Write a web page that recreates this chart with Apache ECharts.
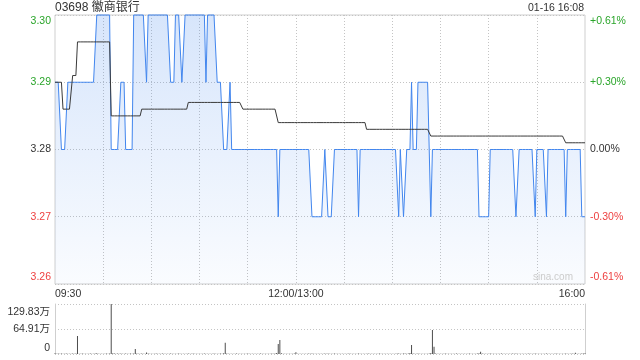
<!DOCTYPE html>
<html>
<head>
<meta charset="utf-8">
<script src="https://cdn.jsdelivr.net/npm/echarts@6/dist/echarts.min.js"></script>
<style>html,body{margin:0;padding:0;background:#fff;}#c{width:640px;height:360px;}</style>
</head>
<body>
<div id="c"></div>
<script>
// ---- data ----
const titleText = '03698 徽商银行';
const dateText = '01-16 16:08';
const prevClose = 3.28;

const priceTickLabels = ['3.26', '3.27', '3.28', '3.29', '3.30'];
const pctTickLabels = ['-0.61%', '-0.30%', '0.00%', '+0.30%', '+0.61%'];
const volTickLabels = ['0', '64.91万', '129.83万'];
const xTickLabels = { 0: '09:30', 150: '12:00/13:00', 330: '16:00' };

const price = [
3.29,3.29,3.29,3.29,3.28,3.28,3.28,3.28,3.29,3.29,
3.29,3.29,3.29,3.29,3.29,3.29,3.29,3.29,3.29,3.29,
3.29,3.29,3.29,3.29,3.29,3.29,3.30,3.30,3.30,3.30,
3.30,3.30,3.30,3.30,3.30,3.28,3.28,3.28,3.28,3.28,
3.28,3.29,3.29,3.29,3.28,3.28,3.28,3.28,3.28,3.30,
3.30,3.30,3.30,3.30,3.30,3.30,3.30,3.29,3.30,3.30,
3.30,3.30,3.30,3.30,3.30,3.30,3.30,3.30,3.30,3.30,
3.30,3.30,3.29,3.29,3.29,3.30,3.30,3.30,3.30,3.29,
3.29,3.30,3.30,3.30,3.30,3.30,3.30,3.30,3.30,3.30,
3.30,3.30,3.30,3.30,3.29,3.30,3.30,3.30,3.30,3.30,
3.30,3.29,3.29,3.29,3.29,3.28,3.28,3.28,3.28,3.29,
3.28,3.28,3.28,3.28,3.28,3.28,3.28,3.28,3.28,3.28,
3.28,3.28,3.28,3.28,3.28,3.28,3.28,3.28,3.28,3.28,
3.28,3.28,3.28,3.28,3.28,3.28,3.28,3.28,3.28,3.27,
3.28,3.28,3.28,3.28,3.28,3.28,3.28,3.28,3.28,3.28,
3.28,3.28,3.28,3.28,3.28,3.28,3.28,3.28,3.28,3.28,
3.27,3.27,3.27,3.27,3.27,3.27,3.27,3.27,3.28,3.28,
3.27,3.27,3.27,3.27,3.28,3.28,3.28,3.28,3.28,3.28,
3.28,3.28,3.28,3.28,3.28,3.28,3.28,3.28,3.28,3.27,
3.28,3.28,3.28,3.28,3.28,3.28,3.28,3.28,3.28,3.28,
3.28,3.28,3.28,3.28,3.28,3.28,3.28,3.28,3.28,3.28,
3.28,3.28,3.28,3.28,3.27,3.28,3.28,3.27,3.27,3.28,
3.28,3.28,3.29,3.28,3.28,3.28,3.29,3.29,3.29,3.29,
3.29,3.29,3.29,3.29,3.27,3.28,3.28,3.28,3.28,3.28,
3.28,3.28,3.28,3.28,3.28,3.28,3.28,3.28,3.28,3.28,
3.28,3.28,3.28,3.28,3.28,3.28,3.28,3.28,3.28,3.28,
3.28,3.28,3.28,3.28,3.27,3.27,3.27,3.27,3.27,3.27,
3.27,3.28,3.28,3.28,3.28,3.28,3.28,3.28,3.28,3.28,
3.28,3.28,3.28,3.28,3.28,3.28,3.28,3.27,3.27,3.28,
3.28,3.28,3.28,3.28,3.28,3.28,3.28,3.28,3.28,3.27,
3.28,3.28,3.28,3.28,3.28,3.28,3.27,3.28,3.28,3.28,
3.28,3.28,3.28,3.28,3.28,3.28,3.28,3.28,3.27,3.28,
3.28,3.28,3.28,3.28,3.28,3.28,3.28,3.28,3.27,3.27,
3.27
];

const avgPrice = [
3.29,3.29,3.29,3.29,3.29,3.286,3.286,3.286,3.286,3.286,
3.286,3.291,3.291,3.291,3.296,3.296,3.296,3.296,3.296,3.296,
3.296,3.296,3.296,3.296,3.296,3.296,3.296,3.296,3.296,3.296,
3.296,3.296,3.296,3.296,3.296,3.285,3.285,3.285,3.285,3.285,
3.285,3.285,3.285,3.285,3.285,3.285,3.285,3.285,3.285,3.285,
3.285,3.285,3.285,3.285,3.286,3.286,3.286,3.286,3.286,3.286,
3.286,3.286,3.286,3.286,3.286,3.286,3.286,3.286,3.286,3.286,
3.286,3.286,3.286,3.286,3.286,3.286,3.286,3.286,3.286,3.286,
3.286,3.286,3.286,3.287,3.287,3.287,3.287,3.287,3.287,3.287,
3.287,3.287,3.287,3.287,3.287,3.287,3.287,3.287,3.287,3.287,
3.287,3.287,3.287,3.287,3.287,3.287,3.287,3.287,3.287,3.287,
3.287,3.287,3.287,3.287,3.287,3.287,3.287,3.286,3.286,3.286,
3.286,3.286,3.286,3.286,3.286,3.286,3.286,3.286,3.286,3.286,
3.286,3.286,3.286,3.286,3.286,3.286,3.286,3.286,3.286,3.284,
3.284,3.284,3.284,3.284,3.284,3.284,3.284,3.284,3.284,3.284,
3.284,3.284,3.284,3.284,3.284,3.284,3.284,3.284,3.284,3.284,
3.284,3.284,3.284,3.284,3.284,3.284,3.284,3.284,3.284,3.284,
3.284,3.284,3.284,3.284,3.284,3.284,3.284,3.284,3.284,3.284,
3.284,3.284,3.284,3.284,3.284,3.284,3.284,3.284,3.284,3.284,
3.284,3.284,3.284,3.284,3.283,3.283,3.283,3.283,3.283,3.283,
3.283,3.283,3.283,3.283,3.283,3.283,3.283,3.283,3.283,3.283,
3.283,3.283,3.283,3.283,3.283,3.283,3.283,3.283,3.283,3.283,
3.283,3.283,3.283,3.283,3.283,3.283,3.283,3.283,3.283,3.283,
3.283,3.283,3.283,3.283,3.282,3.282,3.282,3.282,3.282,3.282,
3.282,3.282,3.282,3.282,3.282,3.282,3.282,3.282,3.282,3.282,
3.282,3.282,3.282,3.282,3.282,3.282,3.282,3.282,3.282,3.282,
3.282,3.282,3.282,3.282,3.282,3.282,3.282,3.282,3.282,3.282,
3.282,3.282,3.282,3.282,3.282,3.282,3.282,3.282,3.282,3.282,
3.282,3.282,3.282,3.282,3.282,3.282,3.282,3.282,3.282,3.282,
3.282,3.282,3.282,3.282,3.282,3.282,3.282,3.282,3.282,3.282,
3.282,3.282,3.282,3.282,3.282,3.282,3.282,3.282,3.282,3.282,
3.282,3.282,3.282,3.282,3.282,3.282,3.282,3.282,3.281,3.281,
3.281,3.281,3.281,3.281,3.281,3.281,3.281,3.281,3.281,3.281,
3.281
];

// volume in 万
const volume = [
2.1,0.8,1.2,0.6,1.5,0.9,0.7,1.1,0.5,0.8,
0.6,1.3,0.9,1.0,46.7,0.7,0.5,1.2,0.8,0.6,
0.9,0.5,1.4,0.7,0.6,1.0,1.8,0.9,0.6,0.8,
0.5,0.7,1.1,0.9,1.6,129.83,2.2,1.3,0.8,1.0,
0.9,1.2,0.6,0.8,1.4,0.7,0.9,1.1,0.6,1.5,
13.0,1.2,0.8,0.6,1.0,0.7,0.9,4.1,1.0,0.8,
0.6,0.9,0.7,1.2,0.5,0.8,0.6,1.0,0.7,0.9,
0.5,0.8,1.1,0.6,0.9,0.7,0.5,1.0,0.8,0.6,
0.9,0.7,0.5,1.2,0.6,0.8,1.0,0.5,0.7,0.9,
0.6,0.8,0.5,1.1,0.7,0.9,0.6,0.8,0.5,1.0,
0.7,0.9,0.6,1.3,0.8,2.0,29.0,1.4,0.7,0.9,
0.6,0.8,0.5,1.0,0.7,0.6,0.9,0.5,0.8,0.6,
1.0,0.7,0.5,0.9,0.6,0.8,0.5,0.7,1.1,0.6,
0.8,0.5,0.9,0.7,0.6,1.0,0.8,1.2,2.4,26.0,
36.4,1.8,0.9,0.7,0.6,0.8,0.5,0.9,0.7,1.0,
4.4,0.8,0.6,0.9,0.5,0.7,0.8,0.6,1.0,0.7,
1.2,0.9,0.6,0.8,0.5,0.7,0.9,0.6,1.0,0.8,
1.1,0.7,0.5,0.9,1.3,0.6,0.8,0.5,0.7,0.9,
0.6,0.8,0.5,1.0,0.7,0.6,0.9,0.5,0.8,1.4,
0.7,0.9,0.6,0.8,0.5,1.0,0.7,0.6,0.9,0.5,
0.8,0.6,1.0,0.7,0.5,0.9,0.6,0.8,0.5,0.7,
0.9,0.6,0.8,1.2,1.6,0.7,0.9,1.1,1.0,0.8,
1.5,2.6,23.4,1.2,0.8,0.9,1.4,0.7,0.6,0.8,
0.5,0.9,0.7,1.0,2.8,62.3,19.0,1.6,0.9,0.7,
0.6,0.8,0.5,1.0,0.7,0.6,0.9,0.5,0.8,0.6,
1.0,0.7,0.5,0.9,0.6,0.8,0.5,0.7,1.0,0.6,
0.8,0.5,0.9,1.2,1.8,6.0,1.1,0.7,0.6,0.9,
0.8,1.0,0.6,0.8,0.5,0.7,0.9,0.6,1.0,0.7,
0.5,0.9,0.6,0.8,0.5,1.0,0.7,1.3,0.9,0.6,
0.8,0.5,0.7,0.9,0.6,1.0,0.8,0.5,0.7,1.2,
0.6,0.9,0.5,0.8,0.7,0.6,1.1,0.8,0.5,0.9,
0.6,0.8,1.0,0.5,0.7,0.9,0.6,0.8,1.3,0.7,
0.9,0.6,1.0,0.8,3.2,0.7,0.5,0.9,1.4,1.1,
2.0
];

// minute categories 09:30-12:00, 13:01-16:00
const times = [];
function p2(n) { return (n < 10 ? '0' : '') + n; }
for (let t = 9 * 60 + 30; t <= 12 * 60; t++) times.push(p2(Math.floor(t / 60)) + ':' + p2(t % 60));
for (let t = 13 * 60 + 1; t <= 16 * 60; t++) times.push(p2(Math.floor(t / 60)) + ':' + p2(t % 60));

// ---- chart ----
const FONT = 'Arial, "Liberation Sans", "Noto Sans CJK SC", sans-serif';
const GREEN = '#2aa52a', RED = '#ee3f3f', BLACK = '#333';
const FS = 10.5;
const gridLine = { type: [1, 2], color: '#c4c4c4', width: 1 };

function rs(color, pad) {
  const o = { color: color, fontSize: FS, fontFamily: FONT };
  if (pad) o.padding = pad;
  return o;
}
const priceRich = {
  rb: rs(RED, [0, 0, 13, 0]), r: rs(RED), k: rs(BLACK), g: rs(GREEN), gt: rs(GREEN, [12, 0, 0, 0])
};
const pctRich = {
  rb: rs(RED, [0, 0, 13, 0]), r: rs(RED), k: rs(BLACK), g: rs(GREEN), gt: rs(GREEN, [13, 0, 0, 0])
};
const styleKeys = ['rb', 'r', 'k', 'g', 'gt'];

const chart = echarts.init(document.getElementById('c'), null, { renderer: 'canvas' });
chart.setOption({
  animation: false,
  backgroundColor: '#fff',
  textStyle: { fontFamily: FONT },
  graphic: [
    { type: 'text', left: 55, top: 2, style: { text: titleText, fontSize: 12, fontFamily: FONT, fill: BLACK } },
    { type: 'text', right: 56, top: 3, style: { text: dateText, fontSize: FS, fontFamily: FONT, fill: BLACK } },
    { type: 'text', right: 67, top: 272, z: 100, style: { text: 'sina.com', fontSize: 10, fontFamily: FONT, fill: '#cccccc' } }
  ],
  grid: [
    { left: 55, right: 55, top: 15, height: 269, show: true, borderColor: '#cfcfcf', borderWidth: 1, outerBoundsMode: 'none', containLabel: false },
    { left: 55, right: 55, top: 304, height: 50, outerBoundsMode: 'none', containLabel: false }
  ],
  xAxis: [
    {
      type: 'category', gridIndex: 0, data: times, boundaryGap: false,
      axisLine: { show: false }, axisTick: { show: false },
      axisLabel: {
        interval: function (i) { return xTickLabels[i] !== undefined; },
        formatter: function (v, i) { return xTickLabels[i] !== undefined ? xTickLabels[i] : v; },
        alignMinLabel: 'left', alignMaxLabel: 'right',
        color: BLACK, fontSize: FS, fontFamily: FONT, margin: 5, hideOverlap: false
      },
      splitLine: { show: true, interval: function (i) { return i % 30 === 0 && i > 0 && i < 330; }, lineStyle: gridLine }
    },
    {
      type: 'category', gridIndex: 1, data: times, boundaryGap: false,
      axisLine: { show: false }, axisTick: { show: false }, axisLabel: { show: false }, splitLine: { show: false }
    }
  ],
  yAxis: [
    {
      type: 'value', gridIndex: 0, position: 'left', min: 3.26, max: 3.30, interval: 0.01,
      axisLine: { show: false }, axisTick: { show: false },
      axisLabel: {
        margin: 4, fontSize: FS, fontFamily: FONT,
        formatter: function (v, i) { return '{' + styleKeys[i] + '|' + priceTickLabels[i] + '}'; },
        rich: priceRich
      },
      splitLine: { show: true, lineStyle: gridLine }
    },
    {
      type: 'value', gridIndex: 0, position: 'right', min: 3.26, max: 3.30, interval: 0.01,
      axisLine: { show: false }, axisTick: { show: false },
      axisLabel: {
        margin: 5, fontSize: FS, fontFamily: FONT,
        formatter: function (v, i) { return '{' + styleKeys[i] + '|' + pctTickLabels[i] + '}'; },
        rich: pctRich
      },
      splitLine: { show: false }
    },
    {
      type: 'value', gridIndex: 1, position: 'left', min: 0, max: 129.83, interval: 64.915,
      axisLine: { show: true, lineStyle: { color: '#cfcfcf', width: 1 } }, axisTick: { show: false },
      axisLabel: {
        margin: 5, fontSize: FS, fontFamily: FONT,
        formatter: function (v, i) {
          const k = i === 0 ? 'b' : (i === 2 ? 't' : 'm');
          return '{' + k + '|' + volTickLabels[i] + '}';
        },
        rich: { b: rs(BLACK, [0, 0, 11, 0]), m: rs(BLACK), t: rs(BLACK, [17, 0, 0, 0]) }
      },
      splitLine: { show: true, lineStyle: gridLine }
    },
    {
      type: 'value', gridIndex: 1, position: 'right', min: 0, max: 129.83, interval: 64.915,
      axisLine: { show: true, lineStyle: { color: '#cfcfcf', width: 1 } }, axisTick: { show: false },
      axisLabel: { show: false }, splitLine: { show: false }
    }
  ],
  series: [
    {
      name: 'price', type: 'line', xAxisIndex: 0, yAxisIndex: 0, data: price,
      symbol: 'none', clip: false,
      lineStyle: { color: '#4286ee', width: 1 },
      areaStyle: {
        origin: 'start',
        color: { type: 'linear', x: 0, y: 0, x2: 0, y2: 1, colorStops: [
          { offset: 0, color: 'rgba(66,134,238,0.3)' },
          { offset: 1, color: 'rgba(66,134,238,0.04)' }
        ] }
      }
    },
    {
      name: 'avg', type: 'line', xAxisIndex: 0, yAxisIndex: 0, data: avgPrice,
      symbol: 'none', clip: false,
      lineStyle: { color: '#3a3a3a', width: 1 }
    },
    {
      name: 'vol', type: 'bar', xAxisIndex: 1, yAxisIndex: 2, data: volume,
      barWidth: 1, itemStyle: { color: '#4d4d4d' }
    }
  ]
});
</script>
</body>
</html>
